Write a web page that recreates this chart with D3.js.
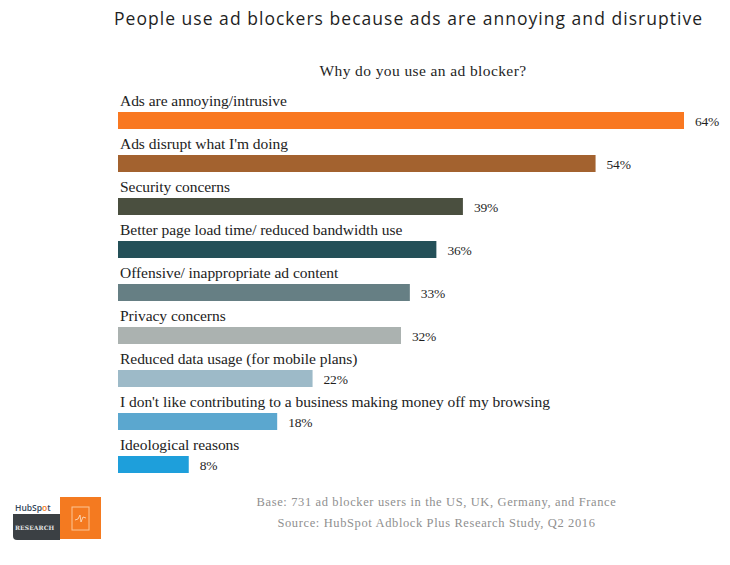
<!DOCTYPE html>
<html>
<head>
<meta charset="utf-8">
<script src="https://cdn.jsdelivr.net/npm/d3@7"></script>
<style>
html, body { margin: 0; padding: 0; background: #fff; }
svg { display: block; }
</style>
</head>
<body>
<svg id="chart" width="730" height="565"></svg>
<script>
const reasons = [
  "Ads are annoying/intrusive",
  "Ads disrupt what I'm doing",
  "Security concerns",
  "Better page load time/ reduced bandwidth use",
  "Offensive/ inappropriate ad content",
  "Privacy concerns",
  "Reduced data usage (for mobile plans)",
  "I don't like contributing to a business making money off my browsing",
  "Ideological reasons"
];
const shares = [64, 54, 39, 36, 33, 32, 22, 18, 8];
const barColors = ["#f97821", "#a3622f", "#4a4f3f", "#245058", "#667f84", "#abb2b0", "#9dbac8", "#5ba7cf", "#1e9fdb"];
const titleText = "People use ad blockers because ads are annoying and disruptive";
const questionText = "Why do you use an ad blocker?";
const footerLines = [
  "Base: 731 ad blocker users in the US, UK, Germany, and France",
  "Source: HubSpot Adblock Plus Research Study, Q2 2016"
];

const serif = "'Liberation Serif', serif";
const svg = d3.select("#chart");

const x = d3.scaleLinear().domain([0, 64]).range([118, 684]);
const y = d3.scaleBand().domain(reasons).range([98, 485]).paddingInner(0).paddingOuter(0);

svg.append("text")
  .attr("x", 114).attr("y", 25)
  .attr("textLength", 588).attr("lengthAdjust", "spacing")
  .style("font", "400 17.5px 'Open Sans', sans-serif")
  .attr("fill", "#1f1f1f")
  .text(titleText);

svg.append("text")
  .attr("x", 423).attr("y", 76)
  .attr("text-anchor", "middle")
  .style("font", `400 15.5px ${serif}`)
  .style("letter-spacing", "0.4px")
  .attr("fill", "#1f1f1f")
  .text(questionText);

const rows = svg.append("g").selectAll("g")
  .data(reasons)
  .join("g")
  .attr("transform", d => `translate(0,${y(d)})`);

rows.append("text")
  .attr("x", 120).attr("y", 8)
  .style("font", `400 15.5px ${serif}`)
  .style("letter-spacing", "-0.04px")
  .attr("fill", "#222")
  .text(d => d);

rows.append("rect")
  .attr("x", x(0))
  .attr("y", 14)
  .attr("width", (d, i) => x(shares[i]) - x(0))
  .attr("height", 17)
  .attr("fill", (d, i) => barColors[i]);

rows.append("text")
  .attr("x", (d, i) => x(shares[i]) + 11)
  .attr("y", 27.5)
  .style("font", `400 13.5px ${serif}`)
  .style("letter-spacing", "-0.2px")
  .attr("fill", "#1f1f1f")
  .text((d, i) => shares[i] + "%");

svg.append("g").selectAll("text")
  .data(footerLines)
  .join("text")
  .attr("x", 436.5)
  .attr("y", (d, i) => 506 + i * 21)
  .attr("text-anchor", "middle")
  .style("font", `400 12.5px ${serif}`)
  .style("letter-spacing", "0.62px")
  .attr("fill", "#8f8f8f")
  .text(d => d);

// Research badge in the lower left corner
const badge = svg.append("g");
const wordmark = badge.append("text")
  .attr("x", 15).attr("y", 511)
  .style("font", "600 8.5px 'Open Sans', sans-serif")
  .attr("fill", "#33475b");
wordmark.append("tspan").text("HubSp");
wordmark.append("tspan").attr("fill", "#f47a20").text("o");
wordmark.append("tspan").text("t");
badge.append("path")
  .attr("d", "M13 514H60V540H17Q13 540 13 536Z")
  .attr("fill", "#3b4044");
badge.append("text")
  .attr("x", 15).attr("y", 529.5)
  .style("font", "700 6px 'DejaVu Serif', serif")
  .style("letter-spacing", "0.1px")
  .attr("fill", "#e6e6e6")
  .text("RESEARCH");
badge.append("rect")
  .attr("x", 60).attr("y", 497).attr("width", 41).attr("height", 42)
  .attr("fill", "#f47a20");
badge.append("rect")
  .attr("x", 72).attr("y", 507).attr("width", 17).attr("height", 23)
  .attr("fill", "none").attr("stroke", "#fbc596").attr("stroke-width", 1);
badge.append("path")
  .attr("d", "M75 520l3-1 2-4 1 7 2-5 3 1")
  .attr("fill", "none").attr("stroke", "#fde3cc").attr("stroke-width", 0.8);
</script>
</body>
</html>
